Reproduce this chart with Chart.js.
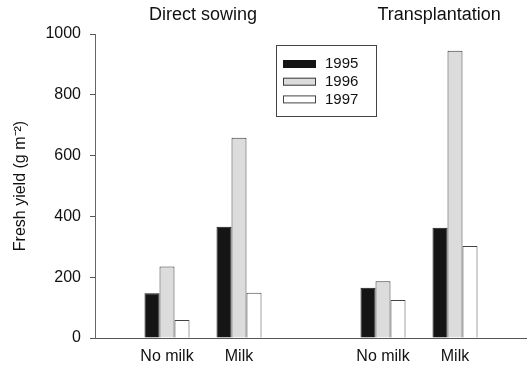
<!DOCTYPE html>
<html>
<head>
<meta charset="utf-8">
<script src="https://cdn.jsdelivr.net/npm/chart.js@4/dist/chart.umd.min.js"></script>
<style>
  body { margin: 0; background: #fff; }
  #wrap { width: 527px; height: 369px; position: relative; }
</style>
</head>
<body>
<div id="wrap"><canvas id="yieldChart"></canvas></div>
<script>
// categories (blank slots keep the gap between the two trials)
const categories = ['', 'No milk', 'Milk', '', 'No milk', 'Milk', ''];
const groupTitles = ['Direct sowing', 'Transplantation'];
const years = ['1995', '1996', '1997'];

// fresh yield, g m-2
const y1995 = [null, 147, 366, null, 165, 363, null];
const y1996 = [null, 235, 659, null, 187, 945, null];
const y1997 = [null, 59, 149, null, 125, 303, null];

const yTicks = [0, 200, 400, 600, 800, 1000];

const FONT = '"Liberation Sans", Arial, Helvetica, sans-serif';

// group headings above the bars
const titlesPlugin = {
  id: 'groupTitles',
  afterDraw(chart) {
    const ctx = chart.ctx;
    const x = chart.scales.x;
    const at = [1.5, 4.78];
    ctx.save();
    ctx.font = '18px ' + FONT;
    ctx.fillStyle = '#111';
    ctx.textAlign = 'center';
    ctx.textBaseline = 'middle';
    groupTitles.forEach((t, i) => {
      ctx.fillText(t, x.getPixelForValue(at[i]), 15);
    });
    ctx.restore();
  }
};

// boxed legend sitting inside the plot
const boxLegend = {
  id: 'boxLegend',
  afterDraw(chart) {
    const ctx = chart.ctx;
    const bx = 276.5, by = 45.5, bw = 100, bh = 71;
    ctx.save();
    ctx.strokeStyle = '#444';
    ctx.lineWidth = 1;
    ctx.strokeRect(bx, by, bw, bh);
    ctx.font = '15px ' + FONT;
    ctx.textBaseline = 'middle';
    chart.data.datasets.forEach((ds, i) => {
      const cy = 64 + i * 17.7;
      ctx.fillStyle = ds.backgroundColor;
      ctx.fillRect(283, cy - 4, 33, 8);
      ctx.strokeStyle = ds.borderColor;
      ctx.strokeRect(283.5, cy - 3.5, 32, 7);
      ctx.fillStyle = '#111';
      ctx.fillText(ds.label, 325, cy);
    });
    ctx.restore();
  }
};

new Chart(document.getElementById('yieldChart'), {
  type: 'bar',
  data: {
    labels: categories,
    datasets: [
      { label: years[0], data: y1995, backgroundColor: '#151515', borderColor: '#151515', borderWidth: 1 },
      { label: years[1], data: y1996, backgroundColor: '#dcdcdc', borderColor: '#3a3a3a', borderWidth: 1 },
      { label: years[2], data: y1997, backgroundColor: '#ffffff', borderColor: '#444', borderWidth: 1 }
    ]
  },
  options: {
    responsive: true,
    maintainAspectRatio: false,
    animation: false,
    categoryPercentage: 0.625,
    barPercentage: 1,
    layout: { padding: { top: 34, right: 0, left: 0, bottom: 0 } },
    plugins: {
      legend: { display: false },
      tooltip: { enabled: false }
    },
    scales: {
      x: {
        offset: false,
        grid: { display: false, drawTicks: false },
        border: { color: '#555', width: 1 },
        ticks: {
          autoSkip: false,
          maxRotation: 0,
          padding: 9,
          color: '#111',
          font: { family: FONT, size: 16 }
        },
        afterFit(scale) {
          scale.height = 31;
          scale.paddingLeft = 0;
          scale.paddingRight = 0;
        }
      },
      y: {
        min: 0,
        max: 1000,
        afterBuildTicks(scale) { scale.ticks = yTicks.map(v => ({ value: v })); },
        grid: { drawOnChartArea: false, tickLength: 5, color: '#555' },
        border: { color: '#666', width: 1 },
        ticks: {
          padding: 9,
          color: '#111',
          font: { family: FONT, size: 16 },
          callback: v => String(v)
        },
        title: {
          display: true,
          text: 'Fresh yield (g m⁻²)',
          color: '#111',
          padding: { top: 11, bottom: 0 },
          font: { family: FONT, size: 16 }
        },
        afterFit(scale) { scale.width = 95; }
      }
    }
  },
  plugins: [titlesPlugin, boxLegend]
});
</script>
</body>
</html>
